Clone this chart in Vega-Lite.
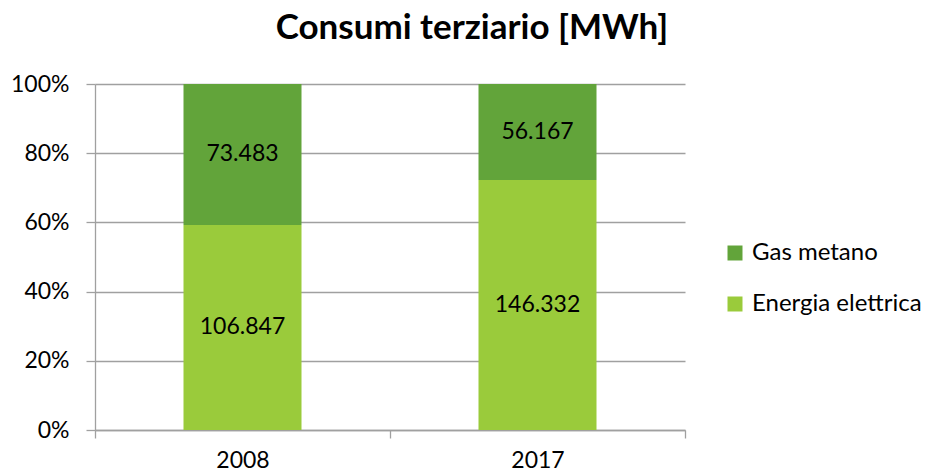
{
  "$schema": "https://vega.github.io/schema/vega-lite/v6.json",
  "width": 590,
  "height": 346,
  "autosize": {"type": "none"},
  "padding": {"left": 95, "top": 84, "right": 244, "bottom": 43},
  "background": "white",
  "config": {
    "font": "Lato",
    "view": {"stroke": null},
    "locale": {"number": {"decimal": ",", "thousands": ".", "grouping": [3], "currency": ["€", ""]}}
  },
  "title": {
    "text": "Consumi terziario [MWh]",
    "font": "Lato",
    "fontSize": 35,
    "fontWeight": "bold",
    "color": "#000000",
    "anchor": "middle",
    "dx": 82,
    "offset": 27
  },
  "data": {
    "values": [
      {"anno": "2008", "serie": "Energia elettrica", "valore": 106847},
      {"anno": "2008", "serie": "Gas metano", "valore": 73483},
      {"anno": "2017", "serie": "Energia elettrica", "valore": 146332},
      {"anno": "2017", "serie": "Gas metano", "valore": 56167}
    ]
  },
  "encoding": {
    "x": {
      "field": "anno",
      "type": "nominal",
      "scale": {"paddingInner": 0, "paddingOuter": 0},
      "axis": {
        "title": null,
        "labelAngle": 0,
        "labelFont": "Lato",
        "labelFontSize": 23,
        "labelColor": "#000000",
        "labelPadding": 11,
        "tickBand": "extent",
        "tickSize": 8,
        "tickColor": "#a0a0a0",
        "domainColor": "#a0a0a0",
        "domainWidth": 1.3,
        "tickWidth": 1.3
      }
    },
    "y": {
      "field": "valore",
      "type": "quantitative",
      "stack": "normalize",
      "scale": {"domain": [0, 1]},
      "axis": {
        "title": null,
        "format": ".0%",
        "values": [0, 0.2, 0.4, 0.6, 0.8, 1],
        "labelFont": "Lato",
        "labelFontSize": 23,
        "labelColor": "#000000",
        "labelPadding": 17,
        "tickSize": 9,
        "tickColor": "#a0a0a0",
        "domainColor": "#a0a0a0",
        "gridColor": "#a0a0a0",
        "grid": true,
        "domainWidth": 1.3,
        "tickWidth": 1.3,
        "gridWidth": 1.3
      }
    },
    "order": {"field": "serie", "sort": "ascending"}
  },
  "layer": [
    {
      "mark": {"type": "bar", "width": {"band": 0.4}},
      "encoding": {
        "color": {
          "field": "serie",
          "type": "nominal",
          "scale": {"domain": ["Gas metano", "Energia elettrica"], "range": ["#62a43a", "#9acb3b"]},
          "legend": {
            "title": null,
            "orient": "none",
            "legendX": 628,
            "legendY": 157,
            "padding": 0,
            "symbolType": "square",
            "symbolSize": 225,
            "symbolStrokeWidth": 0,
            "labelFont": "Lato",
            "labelFontSize": 24,
            "labelColor": "#000000",
            "labelOffset": 5,
            "labelLimit": 400,
            "rowPadding": 27
          }
        }
      }
    },
    {
      "mark": {"type": "text", "font": "Lato", "fontSize": 23, "color": "#000000"},
      "encoding": {
        "y": {"field": "valore", "type": "quantitative", "stack": "normalize", "bandPosition": 0.5},
        "text": {"field": "valore", "type": "quantitative", "format": ",d"}
      }
    }
  ]
}
